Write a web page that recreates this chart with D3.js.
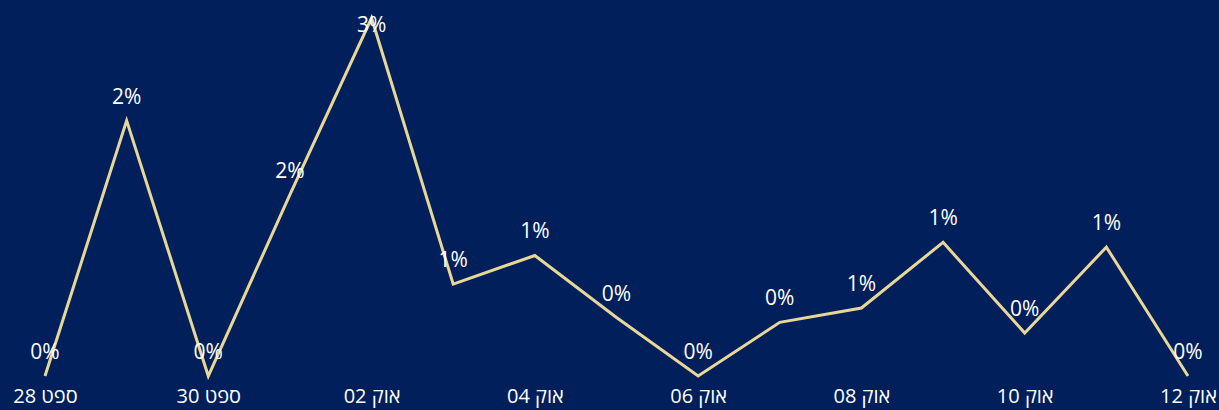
<!DOCTYPE html>
<html>
<head>
<meta charset="utf-8">
<script src="https://cdn.jsdelivr.net/npm/d3@7"></script>
<style>
  body { margin: 0; background: #001f5b; }
  svg { display: block; }
</style>
</head>
<body>
<div class="container"></div>
<script>
'use strict';

// Days on the x axis and their labels (every second day is labelled)
const days = ["09-28", "09-29", "09-30", "10-01", "10-02", "10-03", "10-04", "10-05",
              "10-06", "10-07", "10-08", "10-09", "10-10", "10-11", "10-12"];
const tickLabels = {
  "09-28": "ספט 28", "09-30": "ספט 30", "10-02": "אוק 02", "10-04": "אוק 04",
  "10-06": "אוק 06", "10-08": "אוק 08", "10-10": "אוק 10", "10-12": "אוק 12"
};
// Share per day (fraction)
const rates = [0.0, 0.0214, 0.0, 0.0152, 0.030, 0.0077, 0.0101, 0.0049,
               0.0, 0.0045, 0.0057, 0.0112, 0.0036, 0.0108, 0.0];

const width = 1219;
const height = 410;

const svg = d3.select("div.container").append("svg")
    .attr("width", width)
    .attr("height", height)
    .style("background", "#001f5b");

const x = d3.scalePoint()
    .domain(days)
    .range([45, 1188]);

const y = d3.scaleLinear()
    .domain([0, 0.03])
    .range([376, 18]);

const fontFam = "'Segoe UI', 'Open Sans', 'DejaVu Sans', sans-serif";

// x axis labels, no line or ticks
const xAxis = d3.axisBottom(x)
    .tickValues(days.filter(d => tickLabels[d]))
    .tickFormat(d => tickLabels[d])
    .tickSize(0)
    .tickPadding(0);

const gx = svg.append("g")
    .attr("transform", "translate(0,389)")
    .call(xAxis);
gx.select(".domain").remove();
gx.selectAll("text")
    .attr("fill", "#ffffff")
    .attr("direction", "rtl")
    .style("font-family", fontFam)
    .style("font-size", "20px");

const line = d3.line()
    .x((d, i) => x(days[i]))
    .y(d => y(d));

svg.append("path")
    .datum(rates)
    .attr("fill", "none")
    .attr("stroke", "#e8d898")
    .attr("stroke-width", 3)
    .attr("stroke-linejoin", "miter")
    .attr("d", line);

// data labels, kept inside the top edge
svg.selectAll("text.lbl")
    .data(rates)
    .enter()
    .append("text")
    .attr("class", "lbl")
    .attr("x", (d, i) => x(days[i]))
    .attr("y", d => Math.max(y(d) - 17, 32))
    .attr("text-anchor", "middle")
    .attr("fill", "#ffffff")
    .style("font-family", fontFam)
    .style("font-size", "21px")
    .text(d => d3.format(".0%")(d));
</script>
</body>
</html>
